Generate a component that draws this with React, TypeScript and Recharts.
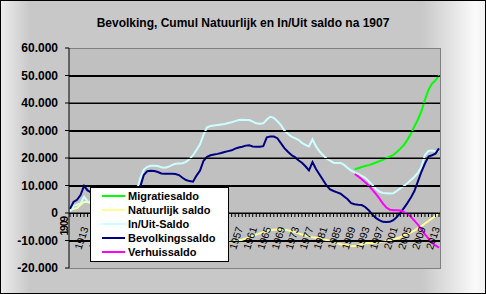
import React from 'react';
import { LineChart, Line, XAxis, YAxis, CartesianGrid, Legend } from 'recharts';

const TITLE = 'Bevolking, Cumul Natuurlijk en In/Uit saldo na 1907';

const YEARS = [
  1909, 1910, 1911, 1912, 1913, 1914, 1915, 1916, 1917, 1918,
  1919, 1920, 1921, 1922, 1923, 1924, 1925, 1926, 1927, 1928,
  1929, 1930, 1931, 1932, 1933, 1934, 1935, 1936, 1937, 1938,
  1939, 1940, 1941, 1942, 1943, 1944, 1945, 1946, 1947, 1948,
  1949, 1950, 1951, 1952, 1953, 1954, 1955, 1956, 1957, 1958,
  1959, 1960, 1961, 1962, 1963, 1964, 1965, 1966, 1967, 1968,
  1969, 1970, 1971, 1972, 1973, 1974, 1975, 1976, 1977, 1978,
  1979, 1980, 1981, 1982, 1983, 1984, 1985, 1986, 1987, 1988,
  1989, 1990, 1991, 1992, 1993, 1994, 1995, 1996, 1997, 1998,
  1999, 2000, 2001, 2002, 2003, 2004, 2005, 2006, 2007, 2008,
  2009, 2010, 2011, 2012, 2013, 2014,
];

// Migratiesaldo (from 1990)
const MIGRATIE = [
  15900, 16300, 16700, 17100, 17400, 17800, 18300, 18800, 19300, 19900,
  20500, 21100, 22200, 23400, 24700, 26600, 28800, 31500, 34000, 37000,
  41200, 44800, 47000, 48200, 50000,
];
const MIGRATIE_START = 1990;

// Natuurlijk saldo
const NATUURLIJK = [
  1000, 1500, 1800, 3000, 4000, 4000, 3500, 3000, 2500, 1800,
  1200, 600, 0, -600, -1200, -1800, -2300, -2800, -3200, -3600,
  -3000, -2000, -1600, -1800, -1900, -2200, -2200, -2200, -2500, -3100,
  -3700, -4200, -5300, -6600, -7900, -9600, -9300, -9600, -9500, -10800,
  -10600, -10500, -10500, -10400, -10200, -10200, -10400, -10200, -10000, -9700,
  -9300, -8800, -8300, -7800, -7400, -7000, -6600, -6300, -6100, -6000,
  -6000, -6100, -6300, -6600, -7000, -7400, -7800, -8200, -8500, -8800,
  -9000, -9300, -9600, -9800, -10200, -10600, -11000, -11400, -11600, -11800,
  -12000, -12000, -11800, -11400, -11000, -10900, -10900, -10800, -10600, -10400,
  -10200, -10000, -9600, -9200, -8800, -8200, -7600, -7000, -6400, -5600,
  -4800, -3800, -2900, -2000, -1000, -100,
];

// In/Uit-Saldo
const INUIT = [
  500, 2500, 3000, 3500, 5900, 4200, 4000, 4000, 4300, 4200,
  5000, 5900, 6000, 6200, 6400, 6600, 6900, 7000, 7200, 8200,
  12600, 15800, 16800, 17200, 17200, 17100, 16600, 16500, 16800, 17400,
  17900, 18000, 18100, 18600, 19500, 21000, 22900, 25000, 28500, 31200,
  31600, 31800, 32000, 32200, 32400, 32700, 33000, 33400, 33800, 33900,
  33800, 33800, 33200, 32600, 32500, 32600, 34000, 35000, 34600, 33400,
  32000, 30000, 28800, 27800, 27200, 26600, 25500, 24800, 24200, 26800,
  24200, 22400, 21000, 19800, 19000, 18300, 18200, 18200, 17500, 16400,
  15400, 14800, 14200, 13500, 12800, 11600, 10200, 8800, 7800, 7300,
  7200, 7100, 7200, 8000, 9000, 9800, 10800, 12000, 13200, 14600,
  16800, 21000, 22600, 22700, 22500, 22600,
];

// Bevolkingssaldo
const BEVOLKING = [
  1500, 4000, 4800, 6500, 9900, 8200, 7500, 7000, 6800, 6000,
  6200, 6500, 6000, 5600, 5200, 4800, 4600, 4200, 4000, 4600,
  9600, 13800, 15200, 15400, 15300, 14900, 14400, 14300, 14300, 14300,
  14200, 13800, 12800, 12000, 11600, 11400, 13600, 15400, 19000, 20400,
  21000, 21300, 21500, 21800, 22200, 22500, 22800, 23400, 23800, 24100,
  24500, 24600, 24200, 24100, 24100, 24300, 27500, 27800, 27800, 27200,
  25400, 23600, 22300, 21100, 20300, 19200, 18300, 17000, 15500, 18500,
  16000, 14000, 12000, 10000, 8600, 8000, 7500, 7000, 6000, 5000,
  3600, 3200, 3000, 2900, 2200, 1000, -500, -1800, -2600, -3200,
  -3300, -3200, -2600, -1500, 0, 1800, 3600, 5600, 8000, 11500,
  15000, 18000, 20500, 21000, 21600, 23500,
];

// Verhuissaldo (from 1990)
const VERHUIS = [
  14200, 13300, 12300, 11200, 10000, 8500, 7000, 5300, 3500, 2000,
  1200, 1000, 1000, 900, 400, -300, -1400, -2800, -4200, -6000,
  -7800, -9200, -10800, -11800, -12600,
];
const VERHUIS_START = 1990;

const SERIES_ORDER = ['Migratiesaldo', 'Natuurlijk saldo', 'In/Uit-Saldo', 'Bevolkingssaldo', 'Verhuissaldo'];

const Y_TICKS = [-20000, -10000, 0, 10000, 20000, 30000, 40000, 50000, 60000];
const Y_TICK_LABELS = ['-20.000', '-10.000', '0', '10.000', '20.000', '30.000', '40.000', '50.000', '60.000'];
const GRID_VALUES = [-10000, 0, 10000, 20000, 30000, 40000, 50000];
const Y_MIN = -20000;
const Y_MAX = 60000;

const DATA = YEARS.map((year, i) => ({
  year,
  migratie: year >= MIGRATIE_START ? MIGRATIE[year - MIGRATIE_START] : null,
  natuurlijk: NATUURLIJK[i],
  inuit: INUIT[i],
  bevolking: BEVOLKING[i],
  verhuis: year >= VERHUIS_START ? VERHUIS[year - VERHUIS_START] : null,
}));

const W = 486;
const H = 294;
const X_AXIS_H = 1;
const Y_AXIS_W = 60;
const Y_TICK_SIZE = 4;
const Y_TICK_MARGIN = 7;
const MARGIN = { top: 48, right: 46, bottom: 26 - X_AXIS_H, left: 9 };
const PLOT_LEFT = MARGIN.left + Y_AXIS_W;
const PLOT_W = W - PLOT_LEFT - MARGIN.right;
const PLOT_H = H - MARGIN.top - MARGIN.bottom - X_AXIS_H;
const ZERO_OFFSET = (PLOT_H * (0 - Y_MIN)) / (Y_MAX - Y_MIN);
const FONT = '"Liberation Sans", Arial, sans-serif';

function YearTick(props: any) {
  const { x, y, payload } = props;
  const idx = YEARS.indexOf(Number(payload.value));
  const zeroY = y - ZERO_OFFSET;
  let label = null;
  if (idx === 0) {
    label = (
      <text
        x={x - 6}
        y={zeroY + 4}
        transform={`rotate(-90, ${x - 6}, ${zeroY + 4})`}
        textAnchor="end"
        dy="0.35em"
        fontSize={10.5}
        fontWeight="bold"
        letterSpacing={-1.2}
        fontFamily={FONT}
        fill="#000"
      >
        {payload.value}
      </text>
    );
  } else if (idx % 4 === 0) {
    const ax = x + 1;
    const ay = zeroY + 14;
    label = (
      <text
        x={ax}
        y={ay}
        transform={`rotate(-72, ${ax}, ${ay})`}
        textAnchor="end"
        dy="0.35em"
        fontSize={10.5}
        fontFamily={FONT}
        fill="#000"
      >
        {payload.value}
      </text>
    );
  }
  return (
    <g>
      <line x1={x} x2={x} y1={zeroY} y2={zeroY + 4} stroke="#000" strokeWidth={1} />
      {label}
    </g>
  );
}

function ValueTick(props: any) {
  const { x, y, payload } = props;
  const v = Number(payload.value);
  const axisX = x + Y_TICK_SIZE + Y_TICK_MARGIN;
  const gy = Math.round(y) + 0.5;
  return (
    <g>
      {GRID_VALUES.includes(v) && (
        <path d={`M${axisX},${gy}H${axisX + PLOT_W}`} stroke="#000000" strokeWidth={1} fill="none" />
      )}
      <text x={x} y={y} dy="0.355em" textAnchor="end" fontSize={12} fontWeight="bold" fontFamily={FONT} fill="#000">
        {Y_TICK_LABELS[Y_TICKS.indexOf(v)]}
      </text>
    </g>
  );
}

function LegendBox(props: any) {
  const payload = [...(props.payload || [])].sort(
    (a: any, b: any) => SERIES_ORDER.indexOf(a.value) - SERIES_ORDER.indexOf(b.value)
  );
  return (
    <div
      style={{
        width: 139,
        height: 75,
        boxSizing: 'border-box',
        background: '#fff',
        border: '1px solid #000',
        paddingTop: 1,
        fontFamily: FONT,
        fontWeight: 'bold',
        fontSize: 11,
        color: '#000',
        textAlign: 'left',
      }}
    >
      {payload.map((entry: any) => (
        <div key={entry.value} style={{ display: 'flex', alignItems: 'center', height: 14, lineHeight: '14px' }}>
          <span style={{ display: 'inline-block', width: 23, height: 2, background: entry.color, marginLeft: 11, marginRight: 3 }} />
          <span>{entry.value}</span>
        </div>
      ))}
    </div>
  );
}

export default function App() {
  return (
    <div style={{ position: 'absolute', left: 0, top: 0, width: W, height: H, fontFamily: FONT }}>
      <div
        style={{
          position: 'absolute',
          left: 0,
          top: 0,
          width: W,
          height: H,
          boxSizing: 'border-box',
          border: '1px solid #000',
          background: 'linear-gradient(to right, #ececec 0%, #c8c8c8 6%, #c8c8c8 87%, #fafafa 98%, #f2f2f2 100%)',
        }}
      />
      <div
        style={{
          position: 'absolute',
          left: PLOT_LEFT,
          top: MARGIN.top,
          width: PLOT_W + 1,
          height: PLOT_H + 1,
          boxSizing: 'border-box',
          background: '#C0C0C0',
          borderTop: '1px solid #808080',
          borderRight: '1px solid #808080',
          borderBottom: '1px solid #808080',
        }}
      />
      <div
        style={{
          position: 'absolute',
          left: 0,
          top: 16,
          width: W,
          textAlign: 'center',
          fontWeight: 'bold',
          fontSize: 12,
          lineHeight: '14px',
          color: '#000',
        }}
      >
        {TITLE}
      </div>
      <div style={{ position: 'absolute', left: 0, top: 0 }}>
        <LineChart width={W} height={H} data={DATA} margin={MARGIN}>
          <CartesianGrid vertical={false} horizontalValues={GRID_VALUES} stroke="#000" />
          <XAxis
            dataKey="year"
            height={X_AXIS_H}
            interval={0}
            tickSize={0}
            tickMargin={0}
            axisLine={false}
            tickLine={false}
            padding={{ left: 1, right: 1 }}
            tick={(p: any) => <YearTick {...p} />}
          />
          <YAxis
            domain={[Y_MIN, Y_MAX]}
            ticks={Y_TICKS}
            width={Y_AXIS_W}
            tickSize={Y_TICK_SIZE}
            tickMargin={Y_TICK_MARGIN}
            tick={(p: any) => <ValueTick {...p} />}
            axisLine={{ stroke: '#000' }}
            tickLine={{ stroke: '#000' }}
          />
          <Line dataKey="migratie" name="Migratiesaldo" stroke="#00FF00" strokeWidth={2} dot={false} isAnimationActive={false} />
          <Line dataKey="natuurlijk" name="Natuurlijk saldo" stroke="#FFFF99" strokeWidth={2} dot={false} isAnimationActive={false} />
          <Line dataKey="inuit" name="In/Uit-Saldo" stroke="#CCFFFF" strokeWidth={2} dot={false} isAnimationActive={false} />
          <Line dataKey="bevolking" name="Bevolkingssaldo" stroke="#000080" strokeWidth={2} dot={false} isAnimationActive={false} />
          <Line dataKey="verhuis" name="Verhuissaldo" stroke="#FF00FF" strokeWidth={2} dot={false} isAnimationActive={false} />
          <Legend
            layout="horizontal"
            verticalAlign="middle"
            content={(p: any) => <LegendBox {...p} />}
            wrapperStyle={{ position: 'absolute', left: 90, top: 187, width: 139, height: 75 }}
          />
        </LineChart>
      </div>
    </div>
  );
}
